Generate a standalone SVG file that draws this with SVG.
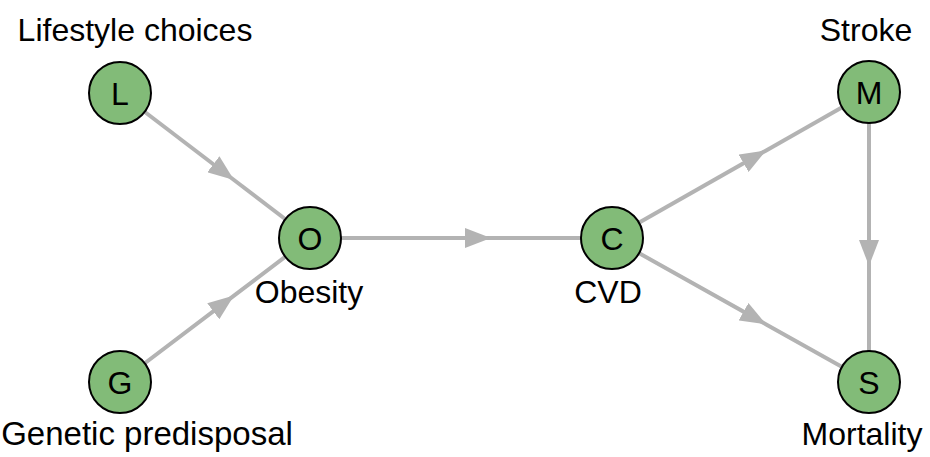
<svg xmlns="http://www.w3.org/2000/svg" width="930" height="457" viewBox="0 0 930 457">
  <style>
    .edge { fill: none; stroke: #b3b3b3; stroke-width: 4; marker-mid: url(#arr); }
    .node circle { fill: #82bb78; stroke: #000; stroke-width: 2; }
    .node text.in { font-family: "Liberation Sans", Arial, sans-serif; font-size: 32px; text-anchor: middle; fill: #000; }
    .lbl { font-family: "Liberation Sans", Arial, sans-serif; font-size: 32px; text-anchor: middle; fill: #000; }
  </style>
  <defs>
    <marker id="arr" markerUnits="userSpaceOnUse" markerWidth="26" markerHeight="20" refX="26" refY="10" orient="auto" viewBox="0 0 26 20">
      <path d="M0,0 L26,10 L0,20 z" fill="#b3b3b3"/>
    </marker>
  </defs>
  <rect width="930" height="457" fill="#ffffff"/>
  <g id="connectors">
    <polyline class="edge" points="120,93 234,180 310,238"/>
    <polyline class="edge" points="120,382 234,295.6 310,238"/>
    <polyline class="edge" points="310,238 491,238 612,238"/>
    <polyline class="edge" points="612,238 766.2,150.4 869,92"/>
    <polyline class="edge" points="612,238 766.2,324.4 869,382"/>
    <polyline class="edge" points="869,92 869,266 869,382"/>
  </g>
  <g id="node-L" class="node">
    <circle cx="120" cy="93" r="31"/>
    <text class="in" x="120" y="104.5">L</text>
    <text class="lbl" x="135" y="41">Lifestyle choices</text>
  </g>
  <g id="node-G" class="node">
    <circle cx="120" cy="382" r="31"/>
    <text class="in" x="120" y="393.5">G</text>
    <text class="lbl" x="147" y="445" style="font-size:33px">Genetic predisposal</text>
  </g>
  <g id="node-O" class="node">
    <circle cx="310" cy="238" r="31"/>
    <text class="in" x="310" y="249.5">O</text>
    <text class="lbl" x="309" y="303">Obesity</text>
  </g>
  <g id="node-C" class="node">
    <circle cx="612" cy="238" r="31"/>
    <text class="in" x="612" y="249.5">C</text>
    <text class="lbl" x="608" y="303">CVD</text>
  </g>
  <g id="node-M" class="node">
    <circle cx="869" cy="92" r="31"/>
    <text class="in" x="869" y="103.5">M</text>
    <text class="lbl" x="866" y="41">Stroke</text>
  </g>
  <g id="node-S" class="node">
    <circle cx="869" cy="382" r="31"/>
    <text class="in" x="869" y="393.5">S</text>
    <text class="lbl" x="862" y="445">Mortality</text>
  </g>
</svg>
